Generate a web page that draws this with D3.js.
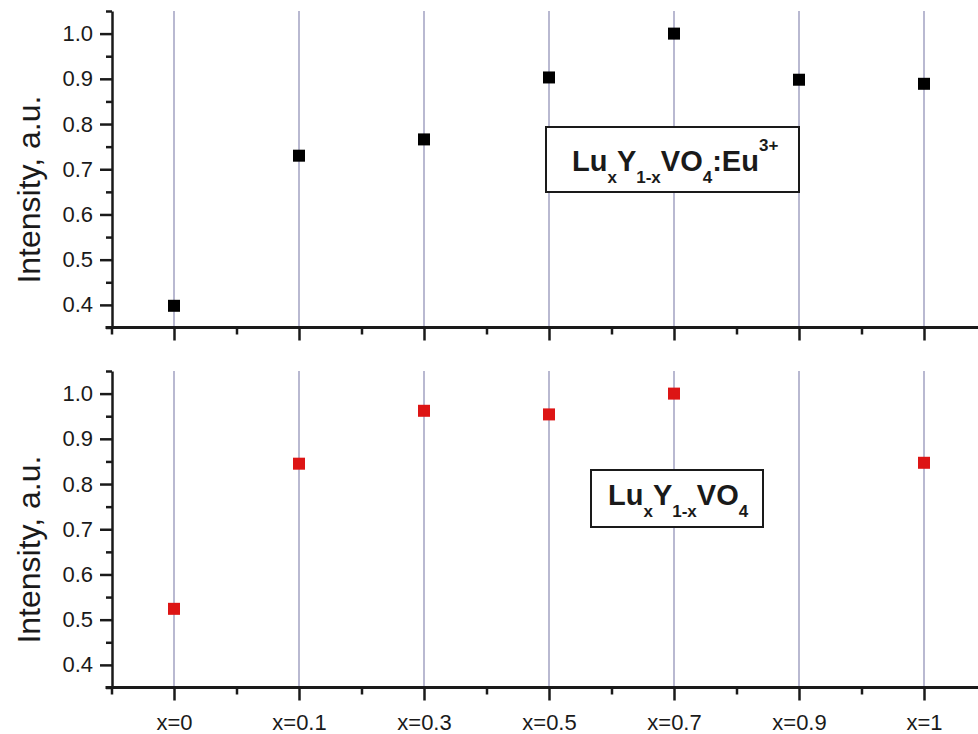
<!DOCTYPE html>
<html>
<head>
<meta charset="utf-8">
<script src="https://cdn.jsdelivr.net/npm/d3@7"></script>
<style>
  html, body { margin: 0; padding: 0; background: #fff; }
  svg { display: block; }
  text { font-family: "Liberation Sans", Arial, sans-serif; fill: #1a1a1a; }
</style>
</head>
<body>
<svg id="chart" width="978" height="734"></svg>
<script>
// Compositions along the horizontal axis
const categories = ["x=0", "x=0.1", "x=0.3", "x=0.5", "x=0.7", "x=0.9", "x=1"];
// Relative intensity, Eu3+-doped series (top panel)
const dopedValues = [0.398, 0.730, 0.766, 0.903, 1.000, 0.898, 0.889];
// Relative intensity, undoped series (bottom panel); no sample at x=0.9
const undopedValues = [0.524, 0.845, 0.962, 0.954, 1.000, null, 0.847];
// Axis ticks
const yMajorTicks = [0.4, 0.5, 0.6, 0.7, 0.8, 0.9, 1.0];
const yMinorTicks = [0.35, 0.45, 0.55, 0.65, 0.75, 0.85, 0.95, 1.05];

const svg = d3.select("#chart");

// Category index scale shared by both panels
const x = d3.scaleLinear().domain([-0.5, categories.length - 0.5]).range([111.5, 986.5]);
const majorIdx = d3.range(categories.length);
const minorIdx = d3.range(categories.length + 1).map(i => i - 0.5);

function drawPanel(offset, values, color, showLabels, legendParts, box) {
  const g = svg.append("g").attr("transform", `translate(0,${offset})`);
  const y = d3.scaleLinear().domain([0.35, 1.05]).range([327.5, 11]);

  // vertical guide lines at each composition
  g.append("g").selectAll("line").data(majorIdx).join("line")
    .attr("x1", d => x(d)).attr("x2", d => x(d))
    .attr("y1", y(1.05)).attr("y2", y(0.35))
    .attr("stroke", "#8a8ab2").attr("stroke-width", 1.2);

  // legend box
  const lg = g.append("g");
  lg.append("rect")
    .attr("x", box.x).attr("y", box.y).attr("width", box.w).attr("height", box.h)
    .attr("fill", "#fff").attr("stroke", "#1a1a1a").attr("stroke-width", 2);
  const t = lg.append("text")
    .attr("x", box.tx).attr("y", box.ty)
    .attr("font-weight", "bold").attr("font-size", 29);
  legendParts.forEach(p => {
    const s = t.append("tspan").text(p.t);
    if (p.sub) s.attr("font-size", 17).attr("dy", 12);
    else if (p.sup) s.attr("font-size", 17).attr("dy", -20);
    else if (p.back) s.attr("dy", p.back);
  });

  // y axis: major ticks with labels
  const yAxis = g.append("g").attr("transform", "translate(112,0)")
    .call(d3.axisLeft(y).tickValues(yMajorTicks).tickSize(12).tickSizeOuter(0)
      .tickPadding(7).tickFormat(d3.format(".1f")));
  yAxis.select(".domain").attr("stroke", "#1a1a1a").attr("stroke-width", 2.5);
  yAxis.selectAll(".tick line").attr("stroke", "#1a1a1a").attr("stroke-width", 2.5);
  yAxis.selectAll(".tick text").attr("font-size", 22).attr("fill", "#1a1a1a")
    .style("font-family", '"Liberation Sans", Arial, sans-serif');

  // y axis: minor ticks
  const yMinor = g.append("g").attr("transform", "translate(112,0)")
    .call(d3.axisLeft(y).tickValues(yMinorTicks).tickSize(6).tickSizeOuter(0).tickFormat(""));
  yMinor.select(".domain").remove();
  yMinor.selectAll(".tick line").attr("stroke", "#1a1a1a").attr("stroke-width", 2.5);

  // x axis line
  g.append("line")
    .attr("x1", x.range()[0] - 6).attr("x2", 978)
    .attr("y1", y(0.35)).attr("y2", y(0.35))
    .attr("stroke", "#1a1a1a").attr("stroke-width", 3);

  // x axis: major ticks (labels on the lower panel only)
  const xAxis = g.append("g").attr("transform", `translate(0,${y(0.35)})`)
    .call(d3.axisBottom(x).tickValues(majorIdx).tickSize(13).tickSizeOuter(0)
      .tickPadding(14).tickFormat(i => showLabels ? categories[i] : ""));
  xAxis.select(".domain").remove();
  xAxis.selectAll(".tick line").attr("stroke", "#1a1a1a").attr("stroke-width", 2.5);
  xAxis.selectAll(".tick text").attr("font-size", 22).attr("fill", "#1a1a1a")
    .style("font-family", '"Liberation Sans", Arial, sans-serif');

  // x axis: minor ticks
  const xMinor = g.append("g").attr("transform", `translate(0,${y(0.35)})`)
    .call(d3.axisBottom(x).tickValues(minorIdx).tickSize(7).tickSizeOuter(0).tickFormat(""));
  xMinor.select(".domain").remove();
  xMinor.selectAll(".tick line").attr("stroke", "#1a1a1a").attr("stroke-width", 2.5);

  // y axis title
  g.append("text")
    .attr("transform", `translate(40,${y(0.655)}) rotate(-90)`)
    .attr("text-anchor", "middle")
    .attr("font-size", 32)
    .text("Intensity, a.u.");

  // data markers
  const size = 12;
  g.append("g").selectAll("rect")
    .data(values.map((v, i) => ({ v, i })).filter(d => d.v !== null))
    .join("rect")
    .attr("x", d => x(d.i) - size / 2).attr("y", d => y(d.v) - size / 2)
    .attr("width", size).attr("height", size)
    .attr("fill", color);
}

drawPanel(0, dopedValues, "#000", false,
  [{ t: "Lu" }, { t: "x", sub: true }, { t: "Y", back: -12 }, { t: "1-x", sub: true },
   { t: "VO", back: -12 }, { t: "4", sub: true }, { t: ":Eu", back: -12 }, { t: "3+", sup: true }],
  { x: 546, y: 127, w: 253, h: 65, tx: 572, ty: 171 });

drawPanel(360, undopedValues, "#dd1515", true,
  [{ t: "Lu" }, { t: "x", sub: true }, { t: "Y", back: -12 }, { t: "1-x", sub: true },
   { t: "VO", back: -12 }, { t: "4", sub: true }],
  { x: 591, y: 110, w: 172, h: 57, tx: 608, ty: 145 });
</script>
</body>
</html>
